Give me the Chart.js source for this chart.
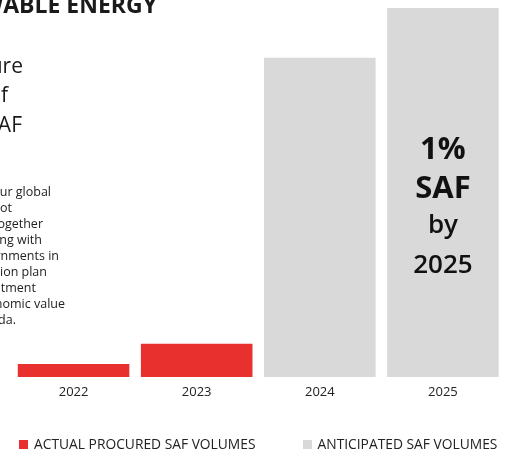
<!DOCTYPE html>
<html>
<head>
<meta charset="utf-8">
<script src="https://cdn.jsdelivr.net/npm/chart.js@4/dist/chart.umd.min.js"></script>
<style>
  html, body { margin: 0; padding: 0; background: #fff; }
  body { width: 513px; height: 452px; position: relative; overflow: hidden; font-family: "Open Sans", "Noto Sans", sans-serif; color: #1a1a1a; }
  #wrap { position: absolute; left: 0; top: 0; width: 513px; height: 452px; }
  .r { position: absolute; white-space: nowrap; text-align: right; }
  .title { font-size: 23px; font-weight: 700; line-height: 23px; top: -7px; right: 356px; }
  .big { font-size: 21px; line-height: 21px; }
  .para { font-size: 12.5px; line-height: 16px; color: #222; }
  #legend { position: absolute; left: 19px; top: 436px; display: flex; gap: 47px; font-size: 13.8px; line-height: 16px; color: #222; }
  #legend .item { display: flex; align-items: center; }
  #legend .box { width: 9px; height: 9px; margin-right: 6px; }
</style>
</head>
<body>
<div id="wrap"><canvas id="safChart" width="513" height="452"></canvas></div>

<!-- page text around the chart, cut off by the left edge -->
<div class="r title">RENEWABLE ENERGY</div>
<div class="r big" style="top:55px; right:490px;">sure</div>
<div class="r big" style="top:84px; right:505px;">of</div>
<div class="r big" style="top:114px; right:491px;">SAF</div>
<div class="r para" style="top:184px; right:462px;">our global</div>
<div class="r para" style="top:200px; right:501px;">not</div>
<div class="r para" style="top:216px; right:470px;">together</div>
<div class="r para" style="top:232px; right:471px;">along with</div>
<div class="r para" style="top:248px; right:454px;">governments in</div>
<div class="r para" style="top:264px; right:466px;">action plan</div>
<div class="r para" style="top:280px; right:477px;">investment</div>
<div class="r para" style="top:296px; right:448px;">economic value</div>
<div class="r para" style="top:312px; right:497px;">Canada.</div>

<div id="legend"></div>

<script>
// Chart data
const years = ['2022', '2023', '2024', '2025'];
const actualVolumes = [3.5, 9, null, null];
const anticipatedVolumes = [null, null, 86.5, 100];
const barText = ['1%', 'SAF', 'by', '2025'];

const RED = '#e8302e';
const GREY = '#d9d9d9';

// Writes the target text inside the last bar
const barTextPlugin = {
  id: 'barText',
  afterDatasetsDraw(chart) {
    const bar = chart.getDatasetMeta(1).data[3];
    if (!bar) return;
    const ctx = chart.ctx;
    const mid = (bar.y + bar.base) / 2;
    const lines = [
      { text: barText[0], font: '700 31px "Open Sans"', dy: -34 },
      { text: barText[1], font: '700 31px "Open Sans"', dy: 5.5 },
      { text: barText[2], font: '600 26px "Open Sans"', dy: 40 },
      { text: barText[3], font: '600 26px "Open Sans"', dy: 80.5 }
    ];
    ctx.save();
    ctx.fillStyle = '#111';
    ctx.textAlign = 'center';
    ctx.textBaseline = 'alphabetic';
    lines.forEach(function(l) {
      ctx.font = l.font;
      ctx.fillText(l.text, bar.x, mid + l.dy);
    });
    ctx.restore();
  }
};

const chart = new Chart(document.getElementById('safChart'), {
  type: 'bar',
  data: {
    labels: years,
    datasets: [{
      label: 'ACTUAL PROCURED SAF VOLUMES',
      data: actualVolumes,
      backgroundColor: RED
    }, {
      label: 'ANTICIPATED SAF VOLUMES',
      data: anticipatedVolumes,
      backgroundColor: GREY
    }]
  },
  options: {
    responsive: false,
    animation: false,
    layout: {
      padding: { left: 12, right: 8.5, top: 8, bottom: 45.4 }
    },
    categoryPercentage: 1,
    barPercentage: 0.906,
    plugins: {
      legend: { display: false },
      tooltip: { enabled: false }
    },
    scales: {
      x: {
        stacked: true,
        grid: { display: false, drawTicks: false },
        border: { display: false },
        ticks: {
          padding: 7,
          color: '#222',
          font: { family: 'Open Sans', size: 13 }
        }
      },
      y: {
        stacked: true,
        display: false,
        min: 0,
        max: 100
      }
    }
  },
  plugins: [barTextPlugin]
});

// HTML legend built from the datasets
const legend = document.getElementById('legend');
chart.data.datasets.forEach(function(ds) {
  const item = document.createElement('div');
  item.className = 'item';
  const box = document.createElement('span');
  box.className = 'box';
  box.style.background = ds.backgroundColor;
  const label = document.createElement('span');
  label.textContent = ds.label;
  item.appendChild(box);
  item.appendChild(label);
  legend.appendChild(item);
});
</script>
</body>
</html>
